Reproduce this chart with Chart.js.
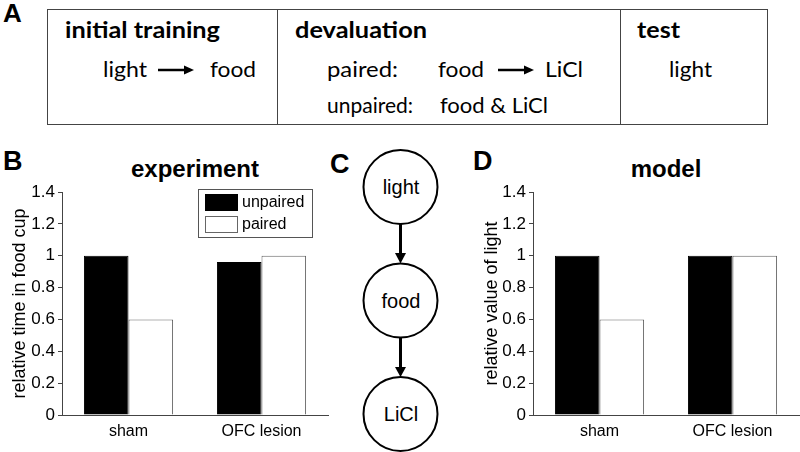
<!DOCTYPE html>
<html>
<head>
<meta charset="utf-8">
<script src="https://cdn.jsdelivr.net/npm/chart.js@4"></script>
<style>
  body { margin: 0; background: #fff; }
  #page { position: relative; width: 800px; height: 452px; overflow: hidden; background: #fff; }
  #page canvas, #page svg { position: absolute; }
  .calib { font-family: Lato, "Open Sans", sans-serif; fill: #000; }
  .helv { font-family: "Liberation Sans", Arial, Helvetica, sans-serif; fill: #000; }
</style>
</head>
<body>
<div id="page">
  <svg width="800" height="452" style="left:0;top:0">
    <!-- panel A: the three stages -->
    <text class="helv" x="3" y="22" font-size="26" font-weight="bold">A</text>
    <g fill="none" stroke="#444" stroke-width="1">
      <rect x="47.5" y="9.5" width="720" height="115"/>
      <line x1="277.5" y1="9.5" x2="277.5" y2="124.5"/>
      <line x1="620.5" y1="9.5" x2="620.5" y2="124.5"/>
    </g>
    <g class="calib" font-size="22" font-weight="bold">
      <text x="65" y="38" textLength="155" lengthAdjust="spacingAndGlyphs">initial training</text>
      <text x="295" y="38" textLength="132" lengthAdjust="spacingAndGlyphs">devaluation</text>
      <text x="637" y="38" textLength="43" lengthAdjust="spacingAndGlyphs">test</text>
    </g>
    <g class="calib" font-size="21">
      <text x="103" y="77" textLength="44" lengthAdjust="spacingAndGlyphs">light</text>
      <text x="210" y="77" textLength="46" lengthAdjust="spacingAndGlyphs">food</text>
      <text x="327" y="77" textLength="71" lengthAdjust="spacingAndGlyphs">paired:</text>
      <text x="438" y="77" textLength="46" lengthAdjust="spacingAndGlyphs">food</text>
      <text x="545" y="77" textLength="38" lengthAdjust="spacingAndGlyphs">LiCl</text>
      <text x="327" y="113" textLength="86" lengthAdjust="spacingAndGlyphs">unpaired:</text>
      <text x="440" y="113" textLength="108" lengthAdjust="spacingAndGlyphs">food &amp; LiCl</text>
      <text x="669" y="77" textLength="43" lengthAdjust="spacingAndGlyphs">light</text>
    </g>
    <g stroke="#000" stroke-width="2.5">
      <line x1="158" y1="70" x2="186" y2="70"/>
      <line x1="498" y1="70" x2="526" y2="70"/>
    </g>
    <g fill="#000">
      <polygon points="184,65.5 194,70 184,74.5"/>
      <polygon points="524,65.5 534,70 524,74.5"/>
    </g>

    <!-- panel letters and titles -->
    <text class="helv" x="3" y="170" font-size="27" font-weight="bold">B</text>
    <text class="helv" x="330" y="173" font-size="27" font-weight="bold">C</text>
    <text class="helv" x="473" y="170" font-size="27" font-weight="bold">D</text>
    <text class="helv" x="195" y="177" font-size="24" font-weight="bold" text-anchor="middle">experiment</text>
    <text class="helv" x="666" y="177" font-size="24" font-weight="bold" text-anchor="middle">model</text>

    <!-- panel C: light -> food -> LiCl -->
    <g fill="none" stroke="#000" stroke-width="2">
      <circle cx="400.5" cy="187" r="37"/>
      <circle cx="400.5" cy="300.5" r="37"/>
      <circle cx="400.5" cy="414" r="37"/>
    </g>
    <g stroke="#000" stroke-width="3">
      <line x1="400.5" y1="224" x2="400.5" y2="255"/>
      <line x1="400.5" y1="337.5" x2="400.5" y2="369"/>
    </g>
    <g fill="#000">
      <polygon points="395,253 406,253 400.5,263.5"/>
      <polygon points="395,367 406,367 400.5,377"/>
    </g>
    <g class="helv" font-size="20" text-anchor="middle">
      <text x="401" y="194">light</text>
      <text x="401" y="307.5">food</text>
      <text x="401" y="421">LiCl</text>
    </g>
  </svg>
  <canvas id="expChart" width="340" height="312" style="left:0;top:140px"></canvas>
  <canvas id="modelChart" width="330" height="312" style="left:470px;top:140px"></canvas>
</div>
<script>
const categories = ['sham', 'OFC lesion'];
const seriesNames = ['unpaired', 'paired'];
const experimentUnpaired = [1.0, 0.96];
const experimentPaired = [0.6, 1.0];
const modelUnpaired = [1.0, 1.0];
const modelPaired = [0.6, 1.0];
const yTickLabels = ['0', '0.2', '0.4', '0.6', '0.8', '1', '1.2', '1.4'];

Chart.defaults.font.family = '"Liberation Sans", Arial, Helvetica, sans-serif';
Chart.defaults.color = '#000';

// boxed legend drawn inside the plot, like the matlab one
const boxLegend = {
  id: 'boxLegend',
  afterDraw(chart) {
    const { ctx, chartArea } = chart;
    const x = chartArea.right - 130, y = chartArea.top - 3;
    ctx.save();
    ctx.fillStyle = '#fff';
    ctx.fillRect(x, y, 114, 48);
    ctx.strokeStyle = '#555';
    ctx.lineWidth = 1;
    ctx.strokeRect(x + 0.5, y + 0.5, 114, 48);
    chart.data.datasets.forEach((ds, i) => {
      const sy = y + 5 + i * 22;
      ctx.fillStyle = ds.backgroundColor;
      ctx.fillRect(x + 7, sy, 33, 17);
      ctx.strokeStyle = ds.borderColor;
      ctx.strokeRect(x + 7.5, sy + 0.5, 32, 16);
      ctx.fillStyle = '#000';
      ctx.font = '16px "Liberation Sans", Arial, sans-serif';
      ctx.textBaseline = 'middle';
      ctx.fillText(ds.label, x + 44, sy + 9);
    });
    ctx.restore();
  }
};

function makeChart(id, unpaired, paired, yTitle, axisWidth, rightPad, titlePad, extra) {
  return new Chart(document.getElementById(id), {
    type: 'bar',
    data: {
      labels: categories,
      datasets: [
        { label: seriesNames[0], data: unpaired, backgroundColor: '#000', borderColor: '#000', borderWidth: 1 },
        { label: seriesNames[1], data: paired, backgroundColor: '#fff', borderColor: '#666', borderWidth: 1 }
      ]
    },
    plugins: extra,
    options: {
      responsive: false,
      animation: false,
      layout: { padding: { top: 52, right: rightPad, bottom: 0, left: 0 } },
      datasets: { bar: { categoryPercentage: 0.67, barPercentage: 1 } },
      plugins: { legend: { display: false }, tooltip: { enabled: false } },
      scales: {
        x: {
          afterFit(scale) { scale.height = 37; },
          ticks: { color: '#000', padding: 7, font: { size: 16 } },
          grid: { display: false, drawTicks: false },
          border: { display: true, color: '#444' }
        },
        y: {
          min: 0,
          max: 1.4,
          afterFit(scale) { scale.width = axisWidth; },
          ticks: { stepSize: 0.2, color: '#000', padding: 3, font: { size: 17 },
                   callback: (v, i) => yTickLabels[i] },
          grid: { drawOnChartArea: false, drawTicks: true, tickLength: 4, color: '#444' },
          border: { display: true, color: '#444' },
          title: { display: true, text: yTitle, color: '#000', font: { size: 18 },
                   padding: { top: titlePad, bottom: 0 } }
        }
      }
    }
  });
}

makeChart('expChart', experimentUnpaired, experimentPaired, 'relative time in food cup', 62, 12, 9, [boxLegend]);
makeChart('modelChart', modelUnpaired, modelPaired, 'relative value of light', 63, 1, 11, []);
</script>
</body>
</html>
